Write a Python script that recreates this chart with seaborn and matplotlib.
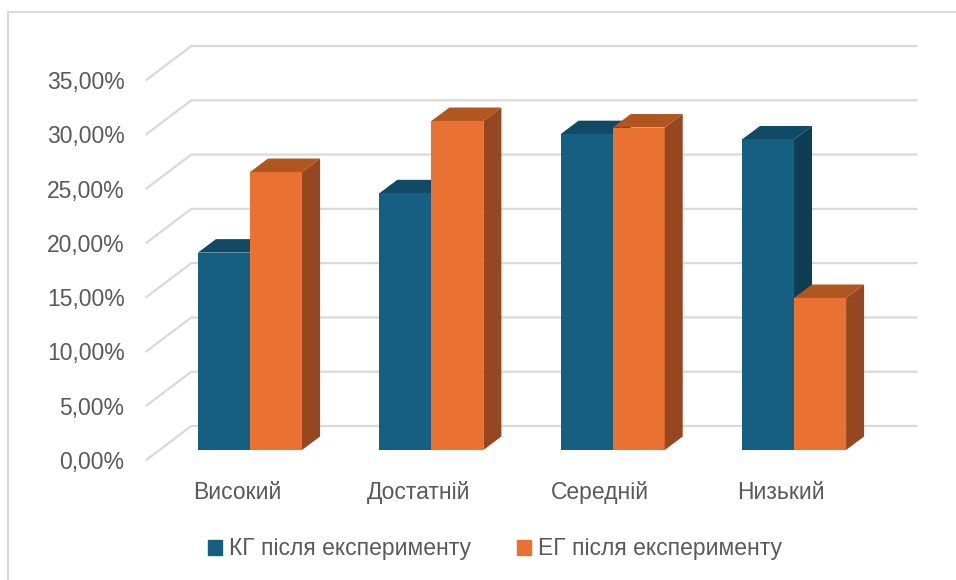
import pandas as pd
import matplotlib.pyplot as plt
import seaborn as sns
from matplotlib.patches import Polygon
from matplotlib.lines import Line2D
from matplotlib.transforms import ScaledTranslation

# Data (percent)
levels = ['Високий', 'Достатній', 'Середній', 'Низький']
kg_after = [18.18, 23.64, 29.09, 28.6]
eg_after = [25.6, 30.3, 29.7, 14.0]
series_names = ['КГ після експерименту', 'ЕГ після експерименту']
y_ticks = [0, 5, 10, 15, 20, 25, 30, 35]

colors = ['#156082', '#E97132']
side_colors = ['#0E3E54', '#964720']
top_colors = ['#104A64', '#B2561F']
text_color = '#595959'
grid_color = '#D9D9D9'

df = pd.DataFrame({
    'level': levels * 2,
    'value': kg_after + eg_after,
    'group': [series_names[0]] * 4 + [series_names[1]] * 4,
})

sns.set_theme(style='white')
plt.rcParams['font.family'] = ['Liberation Sans', 'DejaVu Sans']

W, H = 956, 580
fig = plt.figure(figsize=(W / 100, H / 100), dpi=100)
# axes = plane of the bars' front faces (pixels measured from reference)
left_px, right_px, bottom_px, top_px = 159.3, 884.7, 450, 70
ax = fig.add_axes([left_px / W, 1 - bottom_px / H,
                   (right_px - left_px) / W, (bottom_px - top_px) / H])

sns.barplot(data=df, x='level', y='value', hue='group', palette=colors,
            width=0.574, saturation=1, ax=ax, legend=False, zorder=3)
ax.set_xlim(-0.5, 3.5)
ax.set_ylim(0, 35)
for s in ax.spines.values():
    s.set_visible(False)
ax.set_xlabel('')
ax.set_ylabel('')

# pixel -> data conversion
px_x = 4.0 / (right_px - left_px)
px_y = 35.0 / (bottom_px - top_px)

# slanted gridlines: front edge -> back wall -> right
fx, fy = -13 * px_x, -10 * px_y   # front plane offset
bx, by = 32 * px_x, 24 * px_y     # back wall offset
for v in y_ticks:
    ax.add_line(Line2D([-0.5 + fx, -0.5 + bx, 3.5 + bx], [v + fy, v + by, v + by],
                       color=grid_color, lw=1.6, zorder=1, clip_on=False))

# 3D faces for the bars
dx, dy = 18 * px_x, 13.5 * px_y
bars = [p for p in ax.patches if p.get_height() > 0]
for i, p in enumerate(bars):
    k = 0 if i < 4 else 1
    x0, w, h = p.get_x(), p.get_width(), p.get_height()
    z = 2.5 if k == 0 else 3.5
    side = Polygon([(x0 + w, 0), (x0 + w + dx, dy), (x0 + w + dx, h + dy), (x0 + w, h)],
                   closed=True, facecolor=side_colors[k], edgecolor='none', zorder=z, clip_on=False)
    top = Polygon([(x0, h), (x0 + dx, h + dy), (x0 + w + dx, h + dy), (x0 + w, h)],
                  closed=True, facecolor=top_colors[k], edgecolor='none', zorder=z, clip_on=False)
    ax.add_patch(side)
    ax.add_patch(top)
    p.set_edgecolor('none')

# ticks
ax.set_yticks(y_ticks)
ax.set_yticklabels([f'{v:.2f}%'.replace('.', ',') for v in y_ticks])
ax.tick_params(axis='y', length=0, pad=25, labelsize=16.5, labelcolor=text_color)
ax.tick_params(axis='x', length=0, pad=22, labelsize=16.5, labelcolor=text_color)
for lab in ax.get_yticklabels():
    lab.set_transform(lab.get_transform() + ScaledTranslation(0, -10 / 100, fig.dpi_scale_trans))
for lab in ax.get_xticklabels():
    lab.set_transform(lab.get_transform() + ScaledTranslation(-13 / 100, 0, fig.dpi_scale_trans))

# legend
handles = [plt.Rectangle((0, 0), 1, 1, color=c) for c in colors]
fig.legend(handles, series_names, loc='center', bbox_to_anchor=(495 / W, 1 - 549 / H),
           ncol=2, frameon=False, fontsize=16.5, labelcolor=text_color,
           handlelength=0.6, handleheight=0.6, handletextpad=0.3, columnspacing=2.0)

# chart border
fig.add_artist(Line2D([8 / W, 8 / W], [0, 1 - 12 / H], color=grid_color, lw=1.5,
                      transform=fig.transFigure))
fig.add_artist(Line2D([8 / W, 1], [1 - 12 / H, 1 - 12 / H], color=grid_color, lw=1.5,
                      transform=fig.transFigure))

fig.savefig('out.png', dpi=100)
